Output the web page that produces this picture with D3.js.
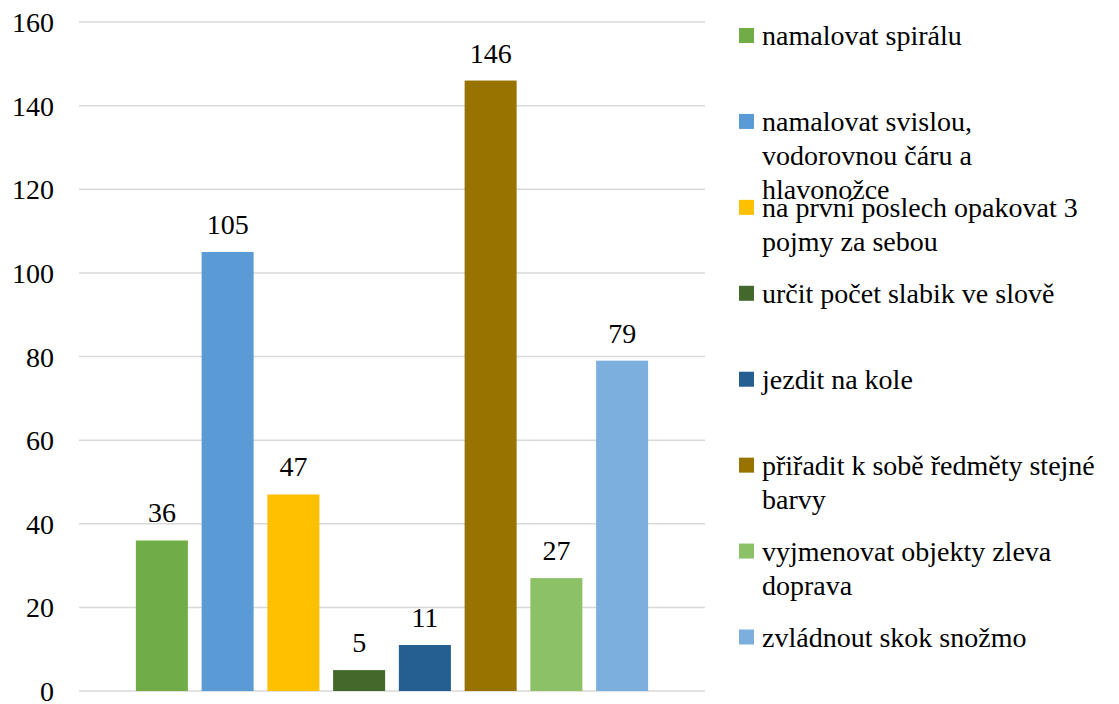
<!DOCTYPE html>
<html>
<head>
<meta charset="utf-8">
<script src="https://cdn.jsdelivr.net/npm/d3@7"></script>
<style>
  html, body { margin: 0; padding: 0; background: #fff; font-family: serif; }
  svg { display: block; font-family: serif; }
</style>
</head>
<body>
<svg id="chart" width="1119" height="704" font-family="serif"></svg>
<script>
const categories = [
  "namalovat spirálu",
  "namalovat svislou,\nvodorovnou čáru a\nhlavonožce",
  "na první poslech opakovat 3\npojmy za sebou",
  "určit počet slabik ve slově",
  "jezdit na kole",
  "přiřadit k sobě ředměty stejné\nbarvy",
  "vyjmenovat objekty zleva\ndoprava",
  "zvládnout skok snožmo"
];
const values = [36, 105, 47, 5, 11, 146, 27, 79];
const colors = ["#70ad47", "#5b9bd5", "#ffc000", "#43682b", "#255e91", "#997300", "#8cc168", "#7cafdd"];
const yTicks = [0, 20, 40, 60, 80, 100, 120, 140, 160];

const fontSize = 28;
const FONT = "serif";
const svg = d3.select("#chart");

const y = d3.scaleLinear().domain([0, 160]).range([691, 22]);
const plotLeft = 79, plotRight = 705;
const x = d3.scaleBand().domain(d3.range(categories.length)).range([129, 655]).paddingInner(0.209).paddingOuter(0.1045);

svg.append("g").selectAll("line").data(yTicks).join("line")
  .attr("x1", plotLeft).attr("x2", plotRight)
  .attr("y1", d => y(d)).attr("y2", d => y(d))
  .attr("stroke", "#d9d9d9").attr("stroke-width", 1.5);

const yAxis = d3.axisLeft(y).tickValues(yTicks).tickSize(0).tickPadding(0);
const gy = svg.append("g").attr("transform", "translate(54,0)").call(yAxis)
  .attr("font-family", FONT).attr("font-size", fontSize);
gy.select(".domain").remove();
gy.selectAll("text").each(function(d) {
  d3.select(this).style("font-family", FONT).style("font-size", fontSize + "px")
    .attr("fill", "#000").attr("dy", "0.34em").text(String(d));
});

svg.append("g").selectAll("rect").data(values).join("rect")
  .attr("x", (d, i) => x(i)).attr("width", x.bandwidth())
  .attr("y", d => y(d)).attr("height", d => y(0) - y(d))
  .attr("fill", (d, i) => colors[i]);

svg.append("g").selectAll("text").data(values).join("text")
  .attr("x", (d, i) => x(i) + x.bandwidth() / 2)
  .attr("y", d => y(d) - 18)
  .attr("text-anchor", "middle")
  .style("font-family", FONT).style("font-size", fontSize + "px")
  .attr("fill", "#000")
  .text(d => d);

const legY = d3.scaleLinear().domain([0, 7]).range([35.5, 637]);
const leg = svg.append("g").selectAll("g").data(categories).join("g")
  .attr("transform", (d, i) => `translate(739,${legY(i)})`);
leg.append("rect").attr("x", 0).attr("y", -7.5).attr("width", 15).attr("height", 15)
  .attr("fill", (d, i) => colors[i]);
const lt = leg.append("text").attr("x", 23).attr("y", 9.5)
  .style("font-family", FONT).style("font-size", fontSize + "px").attr("fill", "#000");
lt.selectAll("tspan").data(d => d.split("\n")).join("tspan")
  .attr("x", 23).attr("dy", (d, j) => j === 0 ? 0 : 34)
  .text(d => d);
</script>
</body>
</html>
